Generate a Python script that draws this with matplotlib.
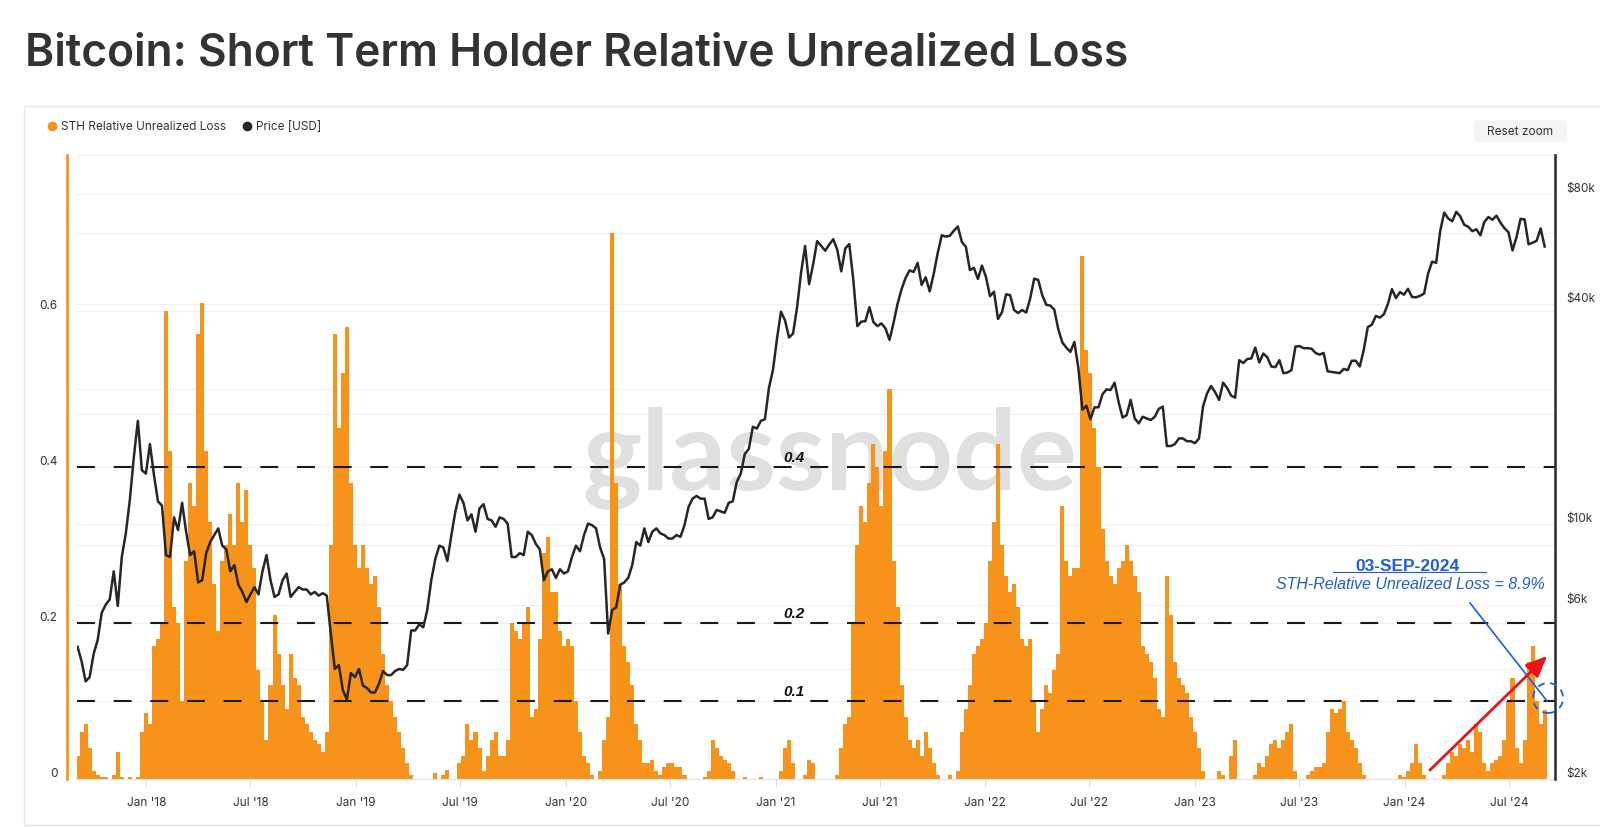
import matplotlib
matplotlib.use("Agg")
import numpy as np
import pandas as pd
import matplotlib.pyplot as plt
import matplotlib.dates as mdates
from matplotlib.lines import Line2D
from matplotlib.patches import Circle, FancyBboxPatch, Rectangle
from matplotlib.ticker import FixedLocator, FixedFormatter, MultipleLocator, NullLocator
from matplotlib.transforms import ScaledTranslation

plt.rcParams['font.family'] = ['Inter', 'DejaVu Sans']

#% Data: weekly samples, starting 2017-09-03

START = '2017-09-03'

loss_2017 = [0.03, 0.06, 0.07, 0.04, 0.01, 0.005, 0.002, 0.003, 0.0, 0.005, 0.035, 0.003,
             0.0, 0.002, 0.0, 0.003, 0.06, 0.085]
loss_2018 = [0.07, 0.17, 0.18, 0.20, 0.60, 0.42, 0.22, 0.20, 0.10, 0.28, 0.38, 0.35, 0.57,
             0.61, 0.42, 0.33, 0.25, 0.19, 0.28, 0.30, 0.34, 0.30, 0.38, 0.33, 0.37, 0.30,
             0.27, 0.14, 0.10, 0.05, 0.12, 0.21, 0.16, 0.12, 0.09, 0.16, 0.13, 0.12, 0.08,
             0.07, 0.06, 0.05, 0.045, 0.035, 0.06, 0.30, 0.57, 0.45, 0.52, 0.58, 0.38, 0.30]
loss_2019 = [0.27, 0.30, 0.27, 0.25, 0.26, 0.22, 0.16, 0.12, 0.10, 0.08, 0.06, 0.04, 0.02,
             0.005, 0.0, 0.0, 0.0, 0.0, 0.0, 0.008, 0.0, 0.005, 0.012, 0.0, 0.0, 0.02,
             0.03, 0.07, 0.05, 0.06, 0.04, 0.01, 0.03, 0.05, 0.06, 0.03, 0.03, 0.05, 0.20,
             0.19, 0.18, 0.20, 0.22, 0.08, 0.09, 0.18, 0.29, 0.31, 0.24, 0.24, 0.19, 0.17]
loss_2020 = [0.18, 0.17, 0.10, 0.06, 0.03, 0.02, 0.005, 0.0, 0.01, 0.05, 0.08, 0.70, 0.38,
             0.25, 0.17, 0.15, 0.12, 0.07, 0.05, 0.02, 0.02, 0.025, 0.01, 0.005, 0.015, 0.02,
             0.02, 0.015, 0.015, 0.005, 0.0, 0.0, 0.0, 0.0, 0.003, 0.01, 0.05, 0.04, 0.03,
             0.025, 0.02, 0.01, 0.0, 0.0, 0.003, 0.0, 0.0, 0.0, 0.002, 0.0, 0.0, 0.0]
loss_2021 = [0.0, 0.01, 0.04, 0.05, 0.02, 0.0, 0.0, 0.005, 0.025, 0.02, 0.0, 0.0, 0.0,
             0.0, 0.0, 0.005, 0.04, 0.07, 0.08, 0.20, 0.30, 0.35, 0.33, 0.38, 0.43, 0.40,
             0.35, 0.42, 0.50, 0.28, 0.22, 0.12, 0.08, 0.05, 0.04, 0.05, 0.03, 0.06, 0.04,
             0.02, 0.005, 0.0, 0.0, 0.005, 0.0, 0.01, 0.06, 0.09, 0.12, 0.16, 0.17, 0.18]
loss_2022 = [0.20, 0.28, 0.33, 0.43, 0.30, 0.26, 0.24, 0.25, 0.22, 0.18, 0.17, 0.18, 0.10,
             0.06, 0.09, 0.12, 0.11, 0.14, 0.16, 0.35, 0.28, 0.26, 0.27, 0.27, 0.67, 0.55,
             0.52, 0.45, 0.40, 0.32, 0.28, 0.26, 0.25, 0.27, 0.28, 0.30, 0.28, 0.26, 0.24,
             0.17, 0.16, 0.15, 0.13, 0.09, 0.08, 0.26, 0.21, 0.15, 0.13, 0.12, 0.11, 0.08]
loss_2023 = [0.06, 0.04, 0.01, 0.0, 0.0, 0.0, 0.01, 0.005, 0.0, 0.03, 0.05, 0.0, 0.0,
             0.0, 0.0, 0.005, 0.02, 0.015, 0.03, 0.045, 0.05, 0.04, 0.05, 0.06, 0.07, 0.01,
             0.0, 0.0, 0.005, 0.01, 0.015, 0.015, 0.02, 0.06, 0.09, 0.085, 0.09, 0.10, 0.06,
             0.05, 0.04, 0.02, 0.005, 0.0, 0.0, 0.0, 0.0, 0.0, 0.0, 0.0, 0.0, 0.005, 0.003]
loss_2024 = [0.01, 0.02, 0.045, 0.02, 0.005, 0.0, 0.0, 0.0, 0.0, 0.005, 0.02, 0.035, 0.03,
             0.045, 0.04, 0.05, 0.035, 0.07, 0.06, 0.02, 0.01, 0.02, 0.025, 0.03, 0.05, 0.10,
             0.13, 0.04, 0.02, 0.05, 0.15, 0.17, 0.10, 0.07, 0.089]

price_2017 = [4600, 4200, 3700, 3800, 4400, 4800, 5700, 6000, 6200, 7400, 5950, 8100, 9400,
              11600, 15200, 19100, 14000, 13700]
price_2018 = [16500, 13600, 11500, 11200, 8200, 8100, 10400, 9600, 11400, 9500, 8200, 8400,
              6900, 7000, 8300, 8900, 9300, 9700, 8700, 8500, 7400, 7700, 6800, 6500, 6100,
              6400, 6700, 6400, 7400, 8200, 7000, 6300, 6400, 7000, 7300, 6300, 6500, 6700,
              6600, 6600, 6400, 6500, 6350, 6450, 6350, 5000, 4000, 4100, 3500, 3300, 3900, 3800]
price_2019 = [4000, 3600, 3550, 3450, 3450, 3650, 3950, 3850, 3850, 3950, 4000, 3980, 4100,
              5100, 5100, 5300, 5200, 5800, 7000, 8000, 8700, 8600, 7900, 9300, 10800, 12000,
              11400, 10200, 10600, 9500, 11000, 11300, 10300, 10200, 9800, 10400, 10300, 10000,
              8100, 8100, 8300, 8200, 9500, 9300, 8800, 8500, 7000, 7400, 7500, 7100, 7500, 7300]
price_2020 = [7400, 8100, 8700, 8400, 9300, 10000, 9900, 9700, 8600, 8000, 5000, 5800, 5900,
              6800, 6900, 7100, 7700, 8900, 8700, 9700, 8900, 9500, 9700, 9400, 9300, 9100,
              9100, 9300, 9200, 9900, 11100, 11700, 11900, 11700, 11700, 10300, 10400, 10900,
              10800, 10700, 11400, 11500, 13000, 13700, 15500, 16000, 18400, 18200, 19100,
              19300, 23500, 26300]
price_2021 = [32000, 38000, 36000, 32300, 33100, 39000, 48600, 57500, 45200, 51200, 59300,
              57500, 55800, 58000, 60000, 56200, 49000, 56600, 58200, 46400, 34700, 35700,
              35800, 39100, 35600, 34700, 35300, 34200, 31800, 35400, 39900, 43800, 47000,
              49300, 48800, 51700, 45000, 47200, 43200, 48200, 55000, 61500, 61000, 61300,
              63300, 65000, 59000, 57200, 49400, 50100, 46700, 50800]
price_2022 = [47300, 41900, 43100, 36300, 37900, 42400, 42200, 38400, 37700, 38400, 37800,
              41300, 46800, 46400, 42200, 39700, 39500, 38500, 34000, 31300, 30300, 29500,
              31400, 26600, 20500, 21000, 19300, 20800, 20800, 22600, 23300, 23200, 24300,
              21500, 19500, 19800, 21800, 19400, 18800, 19600, 19400, 19200, 19600, 20600,
              20900, 16300, 16300, 16500, 17100, 17100, 16800, 16800]
price_2023 = [16600, 17100, 20900, 22700, 23800, 22900, 21800, 24300, 23500, 22400, 22100,
              28000, 27500, 28200, 28300, 30300, 27600, 29200, 28500, 26900, 26800, 28000,
              25800, 25900, 26300, 30500, 30600, 30200, 30200, 30100, 29300, 29000, 29300,
              26100, 26000, 25900, 25800, 26500, 26300, 27900, 27900, 26900, 29900, 34500,
              35000, 37000, 36600, 37400, 39900, 43800, 41400, 43000, 42300]
price_2024 = [43900, 41700, 41600, 42000, 42600, 48300, 52100, 51700, 63100, 71000, 68400,
              67200, 71300, 69300, 65700, 64900, 63100, 63900, 61500, 66900, 69000, 67800,
              69600, 66600, 64300, 62700, 55900, 60800, 68200, 68000, 58100, 58700, 59400,
              64200, 57300]

loss = np.array(loss_2017 + loss_2018 + loss_2019 + loss_2020 + loss_2021 + loss_2022
                + loss_2023 + loss_2024)
price = np.array(price_2017 + price_2018 + price_2019 + price_2020 + price_2021 + price_2022
                 + price_2023 + price_2024)
assert len(loss) == len(price)
dates = pd.date_range(START, periods=len(loss), freq='7D')

LOSS_TICKS = [0, 0.2, 0.4, 0.6]
LOSS_LABELS = ['0', '0.2', '0.4', '0.6']
PRICE_TICKS = [2000, 6000, 10000, 40000, 80000]
PRICE_LABELS = ['$2k', '$6k', '$10k', '$40k', '$80k']
PRICE_GRID = [4000, 6000, 10000, 20000, 40000, 80000]
GUIDE_LEVELS = [0.1, 0.2, 0.4]
GUIDE_LABELS = ['0.1', '0.2', '0.4']

ORANGE = '#f7931a'
BLUE = '#1f5fd8'
RED = '#e8131b'
TEXT = '#333333'
GRID = '#f0f0f0'

#% Figure

W, H = 1600, 828
fig = plt.figure(figsize=(W / 100, H / 100), dpi=100)
fig.patch.set_facecolor('white')

def fit_width(t, px):
    r = fig.canvas.get_renderer()
    bb = t.get_window_extent(r)
    t.set_fontsize(t.get_fontsize() * px / bb.width)

title = fig.text(25 / W, 1 - 66 / H, 'Bitcoin: Short Term Holder Relative Unrealized Loss',
                 fontsize=34, weight='semibold', color=TEXT, va='baseline', ha='left')
fit_width(title, 1103)

fig.add_artist(Rectangle((24 / W, 2 / H), 1.0, (826 - 107) / H, transform=fig.transFigure,
                         fill=False, ec='#e6e6e6', lw=1))

# legend
for x, lab, col in [(52, 'STH Relative Unrealized Loss', ORANGE), (247, 'Price [USD]', '#262626')]:
    fig.add_artist(Line2D([x / W], [1 - 127 / H], marker='o', ms=6, color=col, ls='none',
                          transform=fig.transFigure))
    fig.text((x + 9) / W, 1 - 127 / H, lab, fontsize=8.5, color=TEXT, va='center')

fig.add_artist(FancyBboxPatch((1474 / W, 1 - 143 / H), 93 / W, 22 / H,
                              boxstyle='round,pad=0,rounding_size=0.004',
                              transform=fig.transFigure, fc='#f3f4f6', ec='none'))
fig.text(1520 / W, 1 - 132 / H, 'Reset zoom', fontsize=8.5, color=TEXT, ha='center', va='center')

ax = fig.add_axes([77 / W, 1 - 780 / H, (1555 - 77) / W, (780 - 156) / H])
ax2 = ax.twinx()

# spines first: moving a spine resets the ticks
for s in ['top', 'right']:
    ax.spines[s].set_visible(False)
ax.spines['left'].set_position(('outward', 7))
ax.spines['left'].set_color(ORANGE)
ax.spines['left'].set_linewidth(1.9)
ax.spines['bottom'].set_color('#e3e3e3')
for s in ['top', 'left', 'bottom']:
    ax2.spines[s].set_visible(False)
ax2.spines['right'].set_color('#333333')
ax2.spines['right'].set_linewidth(1.9)

ax.set_xlim(pd.Timestamp('2017-09-02'), pd.Timestamp('2024-09-19'))
ax.set_ylim(0, 0.8)
ax2.set_yscale('log')
ax2.set_ylim(2000, 102000)

# grid
ax.set_axisbelow(True)
ax.yaxis.set_minor_locator(MultipleLocator(0.1))
ax.grid(axis='y', which='both', color=GRID, lw=0.8)
top = np.log(102000 / 2000)
for p in PRICE_GRID:
    f = np.log(p / 2000) / top
    ax.plot([0, 1], [f, f], transform=ax.transAxes, color=GRID, lw=0.8, zorder=0)

wm = ax.text(0.5095, 0.4647, 'glassnode', transform=ax.transAxes, ha='center', va='baseline',
             fontsize=80, family=['Lato', 'DejaVu Sans'], weight='bold', color='#e0e0e0',
             zorder=1)
fit_width(wm, 495)

ax.bar(dates, loss, width=7, color=ORANGE, linewidth=0, zorder=2)

for v, lab in zip(GUIDE_LEVELS, GUIDE_LABELS):
    ax.axhline(v, color='#1a1a1a', lw=1.5, ls=(0, (8.6, 9)), zorder=3)
    ax.annotate(lab, xy=(0.485, v), xycoords=('axes fraction', 'data'), xytext=(0, 2.5),
                textcoords='offset points', ha='center', va='bottom', fontsize=11,
                weight='bold', style='italic', family='Liberation Sans', color='#111111',
                zorder=4)

ax2.plot(dates, price, color='#262626', lw=1.8, zorder=3)

# axes styling
ax.set_yticks(LOSS_TICKS, LOSS_LABELS)
ax.tick_params(axis='y', which='both', length=0, pad=7, labelsize=8.5, labelcolor=TEXT)
ax.xaxis.set_major_locator(mdates.MonthLocator(bymonth=[1, 7]))
ax.xaxis.set_major_formatter(mdates.DateFormatter("%b '%y"))
ax.tick_params(axis='x', length=6, color='#dddddd', pad=6, labelsize=8.5, labelcolor=TEXT)
for lab in ax.get_yticklabels():
    lab.set_verticalalignment('bottom')

ax2.yaxis.set_major_locator(FixedLocator(PRICE_TICKS))
ax2.yaxis.set_major_formatter(FixedFormatter(PRICE_LABELS))
ax2.yaxis.set_minor_locator(NullLocator())
ax2.tick_params(axis='y', length=0, pad=8, labelsize=8.5, labelcolor=TEXT)
for lab in ax2.get_yticklabels():
    lab.set_verticalalignment('bottom')

# annotations
ta = ax2.transAxes
ax2.plot([0.8498, 0.9533], [0.3317, 0.3317], transform=ta, color=BLUE, lw=0.8, clip_on=False)
ax2.text(0.8999, 0.3429, '03-SEP-2024', transform=ta, ha='center', va='center',
         fontsize=12.5, weight='bold', family='Liberation Sans', color=BLUE)
ax2.text(0.9019, 0.3141, 'STH-Relative Unrealized Loss = 8.9%', transform=ta, ha='center',
         va='center', fontsize=11.5, style='italic', family='Liberation Sans', color=BLUE)
ax2.plot([0.9425, 0.9946], [0.2821, 0.125], transform=ta, color=BLUE, lw=1.2, clip_on=False)
fig.add_artist(Circle((0, 0), 0.15,
                      transform=fig.dpi_scale_trans + ScaledTranslation(0.9953, 0.1298, ta),
                      fill=False, ec=BLUE, lw=1.3, ls=(0, (4, 3))))
ax2.annotate('', xy=(0.9946, 0.1971), xytext=(0.9154, 0.0144), xycoords='axes fraction',
             annotation_clip=False,
             arrowprops=dict(arrowstyle='-|>,head_length=0.8,head_width=0.35', color=RED,
                             lw=2.0, shrinkA=0, shrinkB=0, mutation_scale=16))

fig.savefig('out.png', dpi=100)
